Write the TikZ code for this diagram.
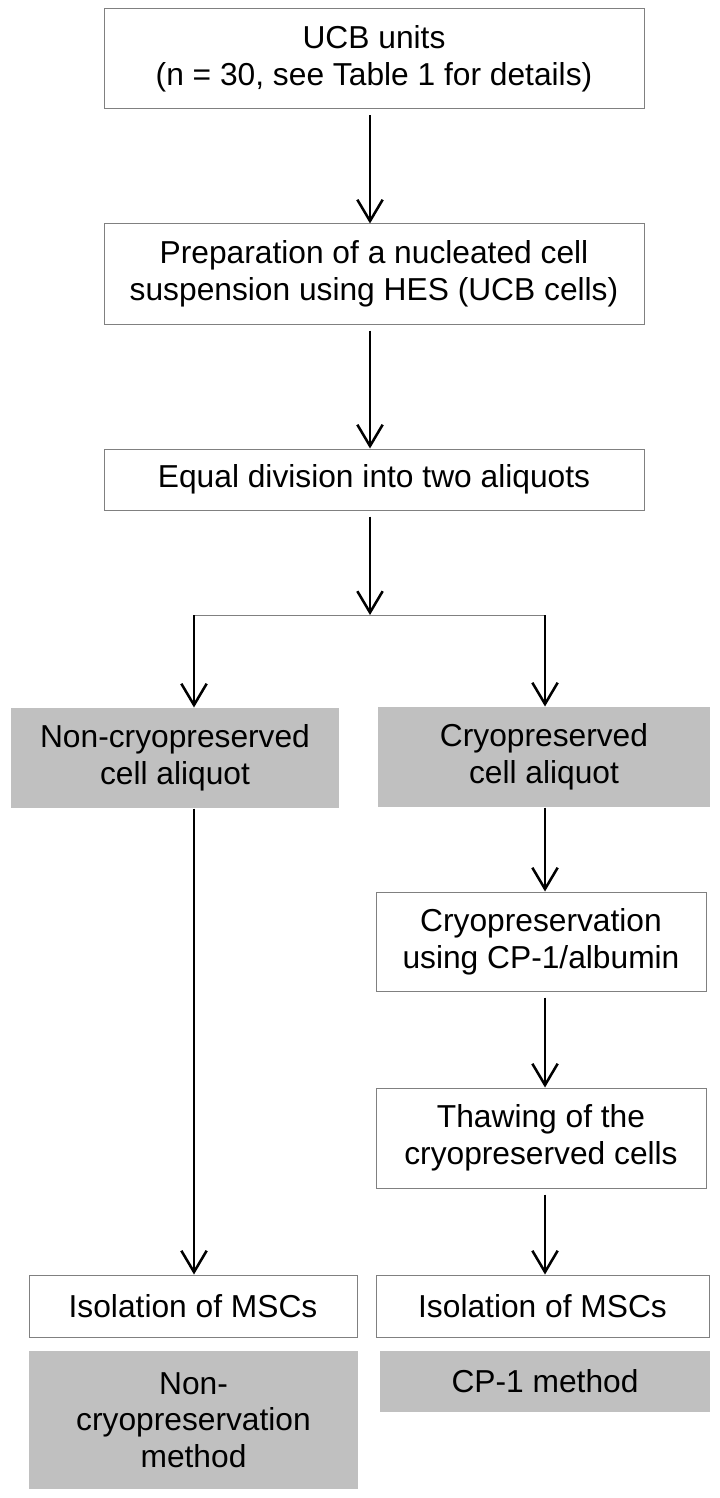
\documentclass[tikz,border=0pt]{standalone}
\usepackage{fontspec}
\setmainfont{Liberation Sans}
\usetikzlibrary{arrows.meta}
\definecolor{boxline}{RGB}{128,128,128}
\definecolor{boxfill}{RGB}{192,192,192}

\begin{document}
\begin{tikzpicture}[x=0.75pt, y=-0.75pt,
	stepbox/.style={shape=rectangle, draw=boxline, line width=0.75pt, fill=white, inner sep=0pt, align=center, font=\fontsize{23.8}{27.5}\selectfont},
	grouplabel/.style={stepbox, draw=none, fill=boxfill},
	flow/.style={-{Straight Barb[length=16pt,width=19pt]}, line width=1.9pt, shorten <=4.5pt},
	fromgray/.style={shorten <=0pt}]
	\useasboundingbox (0,0) rectangle (720,1498);

	\node[stepbox, minimum width=405pt, minimum height=75pt] (ucb) at (374, 59) {UCB units\\(n = 30, see Table 1 for details)};
	\node[stepbox, minimum width=405pt, minimum height=75pt] (prep) at (374, 274) {Preparation of a nucleated cell\\suspension using HES (UCB cells)};
	\node[stepbox, minimum width=405pt, minimum height=45.75pt] (div) at (374, 479.5) {Equal division into two aliquots};
	\node[grouplabel, minimum width=246pt, minimum height=75pt] (noncryo) at (175, 758) {Non-cryopreserved\\cell aliquot};
	\node[grouplabel, minimum width=249pt, minimum height=75pt] (cryo) at (544, 757) {Cryopreserved\\cell aliquot};
	\node[stepbox, minimum width=247.5pt, minimum height=74.25pt] (cpone) at (541, 941.5) {Cryopreservation\\using CP-1/albumin};
	\node[stepbox, minimum width=247.5pt, minimum height=75pt] (thaw) at (541, 1138) {Thawing of the\\cryopreserved cells};
	\node[stepbox, minimum width=246pt, minimum height=46.5pt] (isoL) at (193, 1306) {Isolation of MSCs};
	\node[stepbox, minimum width=249.75pt, minimum height=46.5pt] (isoR) at (542.5, 1306) {Isolation of MSCs};
	\node[grouplabel, minimum width=246.75pt, minimum height=103.5pt] (methL) at (193.5, 1420) {Non-\\cryopreservation\\method};
	\node[grouplabel, minimum width=247.5pt, minimum height=45.75pt] (methR) at (545, 1381.5) {CP-1 method};

	\coordinate (split) at (370, 615);
	\coordinate (splitL) at (194, 615);
	\coordinate (splitR) at (545, 615);

	\draw[flow] (ucb.south -| split) -- (prep.north -| split);
	\draw[flow] (prep.south -| split) -- (div.north -| split);
	\draw[flow] (div.south -| split) -- (split);
	\draw[boxline, line width=0.75pt] (splitL) -- (splitR);
	\draw[flow, fromgray] (splitL) -- (splitL |- noncryo.north);
	\draw[flow, fromgray] (splitR) -- (splitR |- cryo.north);
	\draw[flow, fromgray] (splitL |- noncryo.south) -- (splitL |- isoL.north);
	\draw[flow, fromgray] (splitR |- cryo.south) -- (splitR |- cpone.north);
	\draw[flow] (splitR |- cpone.south) -- (splitR |- thaw.north);
	\draw[flow] (splitR |- thaw.south) -- (splitR |- isoR.north);
\end{tikzpicture}
\end{document}
